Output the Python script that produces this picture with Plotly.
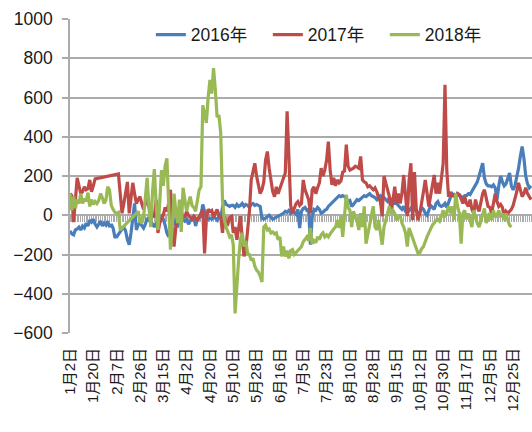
import plotly.graph_objects as go

# ---- data (one value per trading-day category; None = no data, joined by a straight line) ----
tick_labels = ["1月2日", "1月20日", "2月7日", "2月26日", "3月15日", "4月2日", "4月20日",
               "5月10日", "5月28日", "6月16日", "7月5日", "7月23日", "8月10日", "8月28日",
               "9月15日", "10月12日", "10月30日", "11月17日", "12月5日", "12月25日"]
label_step = 13

series_names = ["2016年", "2017年", "2018年"]

y2016 = [
    -80, -95, -100, -75, -70, -60, -75, -55, -65, -40, -55, -25, -35,
    -20, -45, -60, -45, -30, -55, -40, -50, -30, -60, -45, -65, -110,
    -110, -95, -80, -70, -60, -80, -125, -150, -90, -20, 60, -75, -50,
    -40, -55, -65, -45, -15, -25, -30, -45, -60, -40, -25, -15, -5,
    -20, -50, -90, -110, -70, -40, -20, -50, -55, -30, -15, -20, -30,
    -20, -45, -30, -15, -10, -55, -20, -10, -5, 55, 20, -15, -20,
    -15, -20, -10, -15, -25, -5, -15, 40, 75, 55, 50, 45, 50,
    50, 40, 55, 45, 50, 60, 45, 55, 50, 40, 55, 60, 50,
    55, 50, 45, -15, -20, -15, -5, 0, -10, -20, -15, -10, -5,
    0, 5, 10, 20, 15, 25, 10, 20, 15, 5, 30, -65, 20,
    35, 40, 25, 30, -150, -10, 30, 25, 40, 30, 10, 15, 25,
    30, 45, 55, 60, 70, 80, 90, 100, 95, 100, 95, 85, 70,
    75, 45, 55, 70, 80, 75, 85, 90, 100, 95, 105, 110, 100,
    95, 90, 80, 95, 100, 85, 90, 80, 70, 90, 80, 70, 60,
    60, 50, 40, 30, 45, 20, 10, 20, 35, 25, 40, 20, 10,
    15, 40, 30, 10, 0, 30, 50, 40, 30, 60, 70, 50, 45,
    50, 60, 40, 70, 90, 110, 100, 90, 110, 100, 95, 90, 100,
    100, 110, 105, 120, 140, 150, 170, 200, 240, 265, 190, 160, 150,
    150, 145, 155, 140, 80, 150, 200, 170, 150, 160, 190, 215, 150,
    130, 150, 190, 240, 300, 350, 290, 200, 160, 140, 150,
]

y2017 = [
    110, 100, -35, 80, 190, 150, 110, 120, 145, 130, 135, 180, 120,
    150, 185, None, None, None, None, None, None, None, None, None, None, None,
    None, 210, 110, 10, 60, 130, 170, 10, 90, 165, 110, 60, 80,
    95, 60, 30, 60, 80, 40, 20, 0, -10, 80, -90, -40, -20,
    0, 40, 20, 60, 130, -50, -160, -60, 10, 40, -20, 0, -10,
    20, 0, -10, -20, -5, -15, -25, -10, 10, 30, -195, -20, 30,
    20, 25, -10, 10, 30, 0, -10, -90, -5, -40, -45, -10, -5,
    -90, -60, -125, -60, -5, -120, -210, -170, -60, 20, 180, 220, 265,
    200, 150, 110, 130, 170, 280, 325, 240, 180, 120, 95, 145, 110,
    140, 160, 190, 215, 530, 300, 50, 10, 40, 60, 70, 50, 60,
    180, 130, 100, 80, 10, 130, 145, 110, 140, 165, 240, 200, 230,
    280, 375, 230, 155, 190, 150, 180, 165, 175, 220, 225, 360, 250,
    230, 235, 240, 250, 245, 240, 300, 180, 170, 165, 145, 150, 140,
    130, 140, 120, 90, 70, -5, 200, 165, 120, 95, 10, 95, 145,
    60, 110, 60, 110, 205, 110, -5, 180, 265, -25, 220, 30, -25,
    10, 80, 120, 180, 110, 45, 100, 150, 205, 110, 165, 110, 180,
    265, 665, 230, 95, 110, 100, 105, 90, 110, 105, 85, 60, 95,
    60, 45, 80, 30, 10, 80, 40, 20, 70, 110, 130, 90, 45,
    40, 10, 60, 110, 70, 45, 55, 40, -5, 20, 10, 20, 30,
    50, 80, 120, 165, 120, 95, 110, 140, 110, 95, 80,
]

y2018 = [
    110, 25, 95, 35, 80, 60, 110, 60, 85, 70, 115, 45, 80,
    55, 70, 60, 75, 110, 90, 60, 75, 145, 130, 50, 30, 15,
    10, 15, -75, None, None, None, None, None, None, None, None, None, 20,
    -30, -40, -10, 100, 190, 40, -60, 120, 235, 60, -75, 60, 230,
    150, 250, 290, 100, -175, -60, 110, 20, -40, 80, -85, 140, 80,
    20, 60, 95, 50, 40, 20, 80, 130, 145, 560, 520, 470, 600,
    690, 620, 750, 640, 500, 510, 420, 80, -20, -60, -90, -110, -100,
    -150, -500, -330, -225, -120, -90, -160, -130, -195, -200, -230, -220, -260,
    -280, -290, -310, -340, -60, -50, -75, -70, -90, -85, -95, -90, -125,
    -110, -210, -160, -210, -180, -220, -180, -175, -200, -190, -175, -170, -160,
    -135, -120, -110, -130, -65, -145, -130, -140, -110, -125, -100, -90, -110,
    -100, -110, -95, -80, -70, -60, -25, -65, -5, -110, -5, 105, 40,
    25, -60, 20, -10, -30, -75, 10, -60, 45, -145, -100, -60, -5,
    45, -60, -75, -25, -90, -150, -60, -25, 10, 45, 10, 25, 10,
    -25, -10, 0, -40, -60, -90, -160, -65, -90, -110, -145, -160, -195,
    -190, -170, -160, -130, -110, -90, -70, -50, -40, -25, -20, -30, -5,
    25, -10, 15, 45, 10, 45, -25, 110, 45, 10, -145, 10, 25,
    -20, 10, -25, -60, 25, -10, -40, -60, -25, 10, 35, -40, 0,
    10, -25, 25, -10, 0, 25, -10, 10, -25, 10, -25, -50, -60,
]

colors = ["#4A7EBB", "#BE4B48", "#98B954"]
FONT = "Liberation Sans, Noto Sans CJK SC, sans-serif"
GRID = "#ababab"

n_cat = len(y2016)
categories = list(range(n_cat))

fig = go.Figure()
# empty helper trace so the zero-crossing category axis (x2) gets rendered
fig.add_trace(go.Scatter(x=categories[:1], y=[None], xaxis="x2", showlegend=False,
                         hoverinfo="skip", mode="lines"))
for name, ys, col in zip(series_names, [y2016, y2017, y2018], colors):
    fig.add_trace(go.Scatter(
        x=categories[:len(ys)], y=ys, name=name, mode="lines",
        line=dict(color=col, width=3.2), connectgaps=True,
    ))

tickvals = list(range(0, label_step * len(tick_labels), label_step))
xr = [0, n_cat - 0.5]

fig.update_layout(
    width=532, height=432,
    margin=dict(l=70, r=0, t=19, b=99, autoexpand=False),
    paper_bgcolor="white", plot_bgcolor="white",
    font=dict(family=FONT, size=17, color="#1a1a1a"),
    showlegend=True,
    legend=dict(orientation="h", x=0.175, xanchor="left", y=0.95, yanchor="middle",
                bgcolor="rgba(0,0,0,0)", font=dict(size=17.5),
                entrywidth=72, entrywidthmode="pixels"),
    xaxis=dict(range=xr, tickmode="array", tickvals=tickvals, ticktext=tick_labels,
               tickangle=-90, tickfont=dict(size=15), showgrid=False, zeroline=False,
               showline=False, ticks="", ticklabelstandoff=11, automargin=False),
    xaxis2=dict(range=xr, overlaying="x", anchor="free", position=0.375, side="bottom",
                showline=True, linecolor=GRID, linewidth=1.5, ticks="outside",
                ticklen=6, tickwidth=1, tickcolor=GRID, tickmode="linear", tick0=0, dtick=1,
                showticklabels=False, showgrid=False, zeroline=False, layer="below traces",
                automargin=False),
    yaxis=dict(range=[-600, 1000], dtick=200, tick0=-600, showgrid=True, gridcolor=GRID,
               gridwidth=1.5, zeroline=False, showline=True, linecolor=GRID, linewidth=1.5,
               ticks="outside", ticklen=6, tickcolor=GRID, tickwidth=1.5,
               tickfont=dict(size=17.5), ticklabelstandoff=6, automargin=False),
)

fig.write_html("out.html", config={"displayModeBar": False},
               post_script="document.body.style.margin='0px';document.body.style.padding='0px';")
